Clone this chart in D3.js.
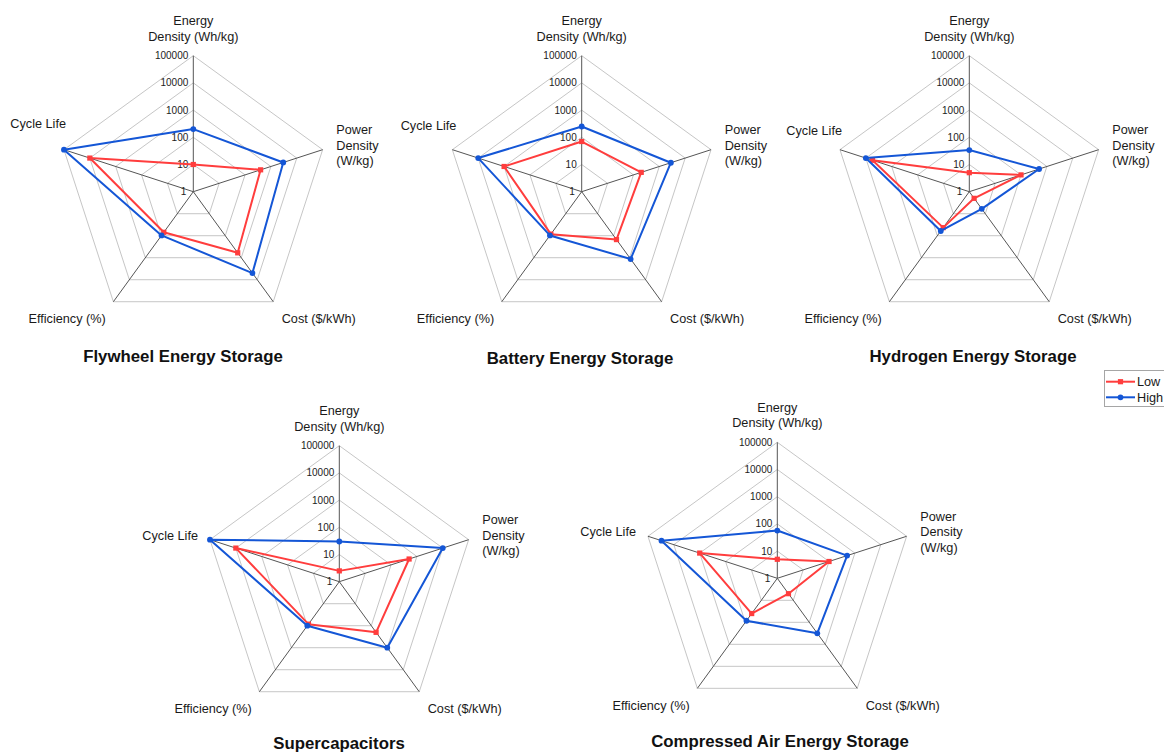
<!DOCTYPE html>
<html>
<head>
<meta charset="utf-8">
<script src="https://cdn.jsdelivr.net/npm/d3@7/dist/d3.min.js"></script>
<style>
  html, body { margin: 0; padding: 0; background: #ffffff; }
  svg { display: block; font-family: "Liberation Sans", Arial, sans-serif; }
</style>
</head>
<body>
<svg id="chart" width="1164" height="754"></svg>
<script>
// Axis categories, in clockwise order starting from the top spoke
const axisLabels = [
  ["Energy", "Density (Wh/kg)"],
  ["Power", "Density", "(W/kg)"],
  ["Cost ($/kWh)"],
  ["Efficiency (%)"],
  ["Cycle Life"]
];

// One radar per storage technology
const technologies = [
  "Flywheel Energy Storage",
  "Battery Energy Storage",
  "Hydrogen Energy Storage",
  "Supercapacitors",
  "Compressed Air Energy Storage"
];

// Low end of each range: energy density, power density, cost, efficiency, cycle life
const lowValues = [
  [10, 400, 600, 70, 10000],
  [70, 200, 150, 85, 1000],
  [5, 100, 2, 43, 5500],
  [2.5, 500, 200, 85, 10000],
  [5, 100, 5, 40, 1000]
];

// High end of each range, same axis order
const highValues = [
  [200, 3000, 5000, 97, 100000],
  [250, 2800, 1150, 97, 10000],
  [34, 500, 6, 61, 10000],
  [30, 10000, 1000, 100, 100000],
  [57, 500, 316, 85, 30000]
];

// Logarithmic radial tick values
const tickValues = [1, 10, 100, 1000, 10000, 100000];
const tickLabels = ["1", "10", "100", "1000", "10000", "100000"];

const seriesNames = ["Low", "High"];
const seriesColors = ["#ff3d3d", "#1456d6"];

// Panel placement: centre, title anchor and the offset of the "Cycle Life" label
const panelLayout = [
  { cx: 193.3, cy: 191.7, tx: 183, ty: 362, cycDx: -183, cycDy: -64 },
  { cx: 581.7, cy: 191.7, tx: 580, ty: 364, cycDx: -181, cycDy: -62 },
  { cx: 969.3, cy: 191.7, tx: 973, ty: 362, cycDx: -183, cycDy: -57 },
  { cx: 339.3, cy: 581.7, tx: 339, ty: 749, cycDx: -197, cycDy: -42 },
  { cx: 777.3, cy: 578.3, tx: 780, ty: 747, cycDx: -197, cycDy: -42 }
];

const R = 136;
const svg = d3.select("#chart");
const nAxes = axisLabels.length;
const angle = i => (i * 2 * Math.PI) / nAxes;

const rScale = d3.scaleLog().domain([1, 100000]).range([0, R]);

function pt(i, r) {
  const a = angle(i);
  return [r * Math.sin(a), -r * Math.cos(a)];
}

technologies.forEach((name, p) => {
  const L = panelLayout[p];
  const g = svg.append("g").attr("transform", `translate(${L.cx},${L.cy})`);

  // concentric pentagon rings
  g.selectAll("path.ring")
    .data(tickValues.slice(1))
    .join("path")
    .attr("class", "ring")
    .attr("d", v => d3.line()(d3.range(nAxes).map(i => pt(i, rScale(v)))) + "Z")
    .attr("fill", "none")
    .attr("stroke", "#c6c6c6")
    .attr("stroke-width", 1);

  // spokes
  g.selectAll("line.spoke")
    .data(d3.range(nAxes))
    .join("line")
    .attr("class", "spoke")
    .attr("x1", 0).attr("y1", 0)
    .attr("x2", i => pt(i, R)[0])
    .attr("y2", i => pt(i, R)[1])
    .attr("stroke", "#555555")
    .attr("stroke-width", 1);

  // tick labels along the top spoke
  g.selectAll("text.tick")
    .data(tickValues)
    .join("text")
    .attr("class", "tick")
    .attr("x", (v, k) => (k === 0 ? -7 : -5))
    .attr("y", v => -rScale(v))
    .attr("dy", "0.35em")
    .attr("text-anchor", "end")
    .attr("font-size", 10)
    .attr("fill", "#222")
    .text((v, k) => tickLabels[k]);

  // axis titles
  const labelPos = [
    { x: 0, y: -166.7, anchor: "middle" },
    { x: 143, y: -57.5, anchor: "start" },
    { x: 88.4, y: 131.6, anchor: "start" },
    { x: -87.5, y: 131.6, anchor: "end" },
    { x: L.cycDx, y: L.cycDy, anchor: "start" }
  ];
  axisLabels.forEach((lines, i) => {
    const t = g.append("text")
      .attr("font-size", 12.7)
      .attr("fill", "#1a1a1a")
      .attr("text-anchor", labelPos[i].anchor);
    lines.forEach((s, k) => {
      t.append("tspan")
        .attr("x", labelPos[i].x)
        .attr("y", labelPos[i].y + k * 15.5)
        .text(s);
    });
  });

  // data series
  [lowValues[p], highValues[p]].forEach((vals, s) => {
    const pts = vals.map((v, i) => pt(i, rScale(v)));
    g.append("path")
      .attr("d", d3.line()(pts) + "Z")
      .attr("fill", "none")
      .attr("stroke", seriesColors[s])
      .attr("stroke-width", 2)
      .attr("stroke-linejoin", "round");
    if (s === 0) {
      g.selectAll(null).data(pts).join("rect")
        .attr("x", d => d[0] - 2.6).attr("y", d => d[1] - 2.6)
        .attr("width", 5.2).attr("height", 5.2)
        .attr("fill", seriesColors[s]);
    } else {
      g.selectAll(null).data(pts).join("circle")
        .attr("cx", d => d[0]).attr("cy", d => d[1])
        .attr("r", 2.9)
        .attr("fill", seriesColors[s]);
    }
  });

  // panel title
  svg.append("text")
    .attr("x", L.tx)
    .attr("y", L.ty)
    .attr("text-anchor", "middle")
    .attr("font-size", 16.8)
    .attr("font-weight", "bold")
    .attr("fill", "#111")
    .text(name);
});

// legend
const lg = svg.append("g");
lg.append("rect")
  .attr("x", 1104.5).attr("y", 370.5)
  .attr("width", 80).attr("height", 36)
  .attr("fill", "#fff")
  .attr("stroke", "#a6a6a6");
seriesNames.forEach((s, k) => {
  const y = 381.7 + k * 15.6;
  lg.append("line")
    .attr("x1", 1106).attr("x2", 1135)
    .attr("y1", y).attr("y2", y)
    .attr("stroke", seriesColors[k]).attr("stroke-width", 2);
  if (k === 0) {
    lg.append("rect").attr("x", 1120.5 - 2.6).attr("y", y - 2.6)
      .attr("width", 5.2).attr("height", 5.2).attr("fill", seriesColors[k]);
  } else {
    lg.append("circle").attr("cx", 1120.5).attr("cy", y).attr("r", 2.9)
      .attr("fill", seriesColors[k]);
  }
  lg.append("text")
    .attr("x", 1137).attr("y", y)
    .attr("dy", "0.36em")
    .attr("font-size", 12.7)
    .attr("fill", "#1a1a1a")
    .text(s);
});
</script>
</body>
</html>
